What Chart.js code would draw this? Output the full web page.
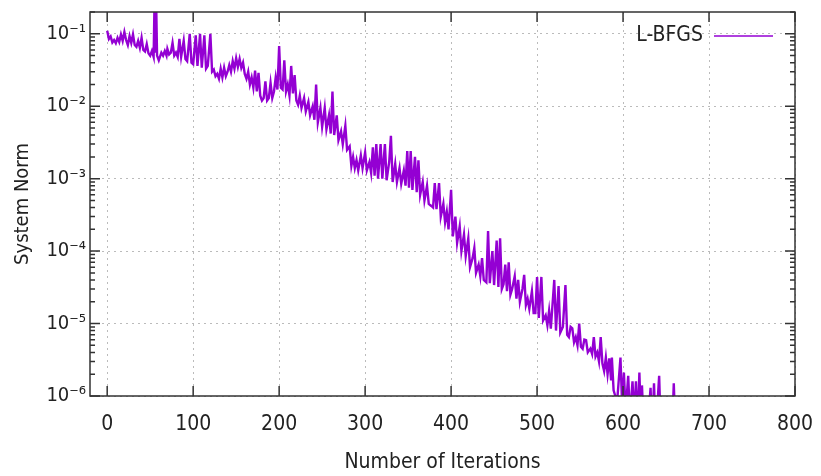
<!DOCTYPE html>
<html>
<head>
<meta charset="utf-8">
<script src="https://cdn.jsdelivr.net/npm/chart.js@4.4.1/dist/chart.umd.min.js"></script>
<style>
  html, body { margin: 0; padding: 0; background: #fff; }
</style>
</head>
<body>
<canvas id="normChart" width="821" height="476"></canvas>
<script>
// ---- data (iteration, system norm) ----
const seriesLabel = "L-BFGS";

const iterations = [
  0, 2, 4, 6, 8, 10, 12, 14, 16, 18, 20, 22, 24, 26, 28, 30, 32, 34, 36, 38,
  40, 42, 44, 46, 48, 50, 52, 54, 55, 56, 57, 58, 60, 63, 65, 67, 69, 70, 72, 74,
  76, 78, 80, 82, 84, 86, 89, 91, 93, 96, 98, 100, 103, 105, 108, 110, 113, 115, 117, 120,
  122, 124, 126, 128, 130, 132, 134, 136, 138, 140, 142, 144, 146, 148, 150, 152, 154, 156, 158, 160,
  162, 164, 166, 168, 170, 172, 174, 176, 178, 180, 182, 184, 186, 188, 190, 192, 194, 196, 198, 200,
  202, 204, 206, 208, 210, 212, 214, 216, 218, 220, 222, 224, 226, 229, 231, 234, 236, 239, 241, 243,
  245, 248, 250, 253, 255, 258, 260, 262, 264, 267, 269, 272, 274, 277, 279, 282, 284, 286, 288, 290,
  292, 295, 297, 300, 302, 305, 307, 309, 311, 313, 315, 318, 320, 323, 325, 328, 330, 332, 335, 337,
  340, 342, 345, 347, 349, 351, 353, 355, 358, 360, 362, 364, 367, 369, 372, 374, 377, 379, 381, 383,
  386, 388, 391, 393, 395, 397, 400, 402, 405, 407, 410, 412, 415, 417, 420, 422, 425, 427, 429, 432,
  434, 436, 438, 441, 443, 445, 448, 450, 453, 455, 457, 459, 461, 463, 465, 467, 469, 471, 474, 476,
  478, 480, 483, 485, 487, 489, 491, 494, 496, 498, 500, 502, 505, 507, 510, 512, 514, 516, 520, 522,
  525, 527, 530, 533, 535, 537, 539, 541, 543, 545, 547, 549, 551, 553, 555, 557, 559, 562, 564, 566,
  568, 570, 572, 574, 576, 578, 580, 582, 584, 586, 587, 589, 591, 593, 597, 599, 601, 603, 606, 608,
  611, 613, 615, 617, 619, 621, 622, 624, 628, 632, 634, 636, 638, 642, 644, 657, 659, 661
];

const norms = [
  0.11, 0.085, 0.092, 0.076, 0.082, 0.074, 0.088, 0.077, 0.098, 0.08, 0.106, 0.082, 0.07, 0.093, 0.075, 0.098, 0.07, 0.066, 0.08, 0.064,
  0.088, 0.06, 0.057, 0.072, 0.054, 0.05, 0.058, 0.048, 0.25, 0.055, 0.25, 0.05, 0.043, 0.055, 0.05, 0.058, 0.05, 0.062, 0.052, 0.055,
  0.075, 0.05, 0.055, 0.048, 0.085, 0.048, 0.08, 0.045, 0.042, 0.1, 0.04, 0.038, 0.095, 0.036, 0.1, 0.034, 0.095, 0.033, 0.036, 0.1,
  0.03, 0.032, 0.026, 0.028, 0.024, 0.033, 0.025, 0.034, 0.026, 0.03, 0.037, 0.03, 0.042, 0.033, 0.046, 0.035, 0.045, 0.034, 0.04, 0.028,
  0.024, 0.03, 0.02, 0.025, 0.018, 0.031, 0.016, 0.029, 0.014, 0.012, 0.013, 0.022, 0.012, 0.013, 0.021, 0.013, 0.016, 0.025, 0.017, 0.068,
  0.018, 0.017, 0.043, 0.016, 0.02, 0.014, 0.036, 0.015, 0.027, 0.012, 0.0105, 0.014, 0.0095, 0.013, 0.0085, 0.0115, 0.0075, 0.01, 0.0065, 0.02,
  0.006, 0.0095, 0.0052, 0.0095, 0.0048, 0.0075, 0.0042, 0.016, 0.004, 0.0075, 0.0034, 0.0045, 0.003, 0.0054, 0.0025, 0.0028, 0.0015, 0.002, 0.0014, 0.0018,
  0.0013, 0.0021, 0.0014, 0.0023, 0.0013, 0.0017, 0.0012, 0.0027, 0.0011, 0.003, 0.001, 0.003, 0.001, 0.003, 0.00095, 0.0017, 0.0039, 0.0009, 0.0016, 0.0009,
  0.0014, 0.00085, 0.0013, 0.0008, 0.0024, 0.00075, 0.0024, 0.0007, 0.002, 0.00065, 0.0018, 0.0006, 0.0009, 0.0005, 0.0008, 0.00045, 0.00042, 0.0004, 0.00087, 0.00038,
  0.00087, 0.0003, 0.00045, 0.00025, 0.00035, 0.0002, 0.0007, 0.00016, 0.0003, 0.00013, 0.00022, 0.0001, 0.00017, 8.5e-5, 0.00015, 6e-5, 8e-5, 0.00011, 5e-5, 6.5e-5,
  4.5e-5, 8e-5, 4e-5, 3.7e-5, 0.00019, 3.6e-5, 0.0001, 3.4e-5, 0.00014, 3.2e-5, 0.00015, 3e-5, 3.5e-5, 6.5e-5, 2.8e-5, 7e-5, 2.5e-5, 3e-5, 4.5e-5, 2.2e-5,
  4e-5, 2e-5, 3e-5, 4.7e-5, 1.8e-5, 2.2e-5, 1.6e-5, 2.8e-5, 1.4e-5, 1.4e-5, 4.4e-5, 1.2e-5, 4.4e-5, 1.1e-5, 1.3e-5, 9.5e-6, 1.5e-5, 8.5e-6, 4e-5, 8e-6,
  3.3e-5, 7.5e-6, 9e-6, 3.4e-5, 7e-6, 6.5e-6, 9e-6, 8.6e-6, 5.5e-6, 6.5e-6, 5e-6, 1e-5, 4.8e-6, 4.5e-6, 6e-6, 5.9e-6, 4e-6, 4.5e-6, 3.8e-6, 6.5e-6,
  3.5e-6, 4e-6, 3e-6, 6.5e-6, 2.8e-6, 2.2e-6, 3.4e-6, 2e-6, 3.3e-6, 1.7e-6, 3.4e-6, 1.2e-6, 1e-6, 8e-7, 3.4e-6, 7e-7, 2.1e-6, 6e-7, 1.9e-6, 5e-7,
  1.6e-6, 5e-7, 1.6e-6, 4e-7, 2.1e-6, 4e-7, 1.4e-6, 4e-7, 3e-7, 1.3e-6, 3e-7, 1.5e-6, 3e-7, 1.9e-6, 3e-7, 3e-7, 1.5e-6, 3e-7
];

const xTicks = [0, 100, 200, 300, 400, 500, 600, 700, 800];
const yTicks = [1e-6, 1e-5, 1e-4, 1e-3, 1e-2, 1e-1];
const yTickLabels = ["10⁻⁶", "10⁻⁵", "10⁻⁴", "10⁻³", "10⁻²", "10⁻¹"];

const lineColor = "#9400d3";
const inkColor = "#222";
const fontFamily = "'DejaVu Sans Condensed', 'DejaVu Sans', sans-serif";

// ---- gnuplot-style frame, inward ticks and key ----
const gnuplotFrame = {
  id: "gnuplotFrame",
  afterDatasetsDraw(chart) {
    const { ctx, chartArea: a, scales: { x, y } } = chart;
    ctx.save();
    ctx.strokeStyle = "#333";
    ctx.lineWidth = 1.5;
    ctx.beginPath();
    xTicks.forEach(v => {
      const px = x.getPixelForValue(v);
      ctx.moveTo(px, a.bottom); ctx.lineTo(px, a.bottom - 10);
      ctx.moveTo(px, a.top); ctx.lineTo(px, a.top + 10);
    });
    yTicks.forEach(d => {
      for (let m = 1; m <= 9; m++) {
        const v = d * m;
        if (v > y.max * 1.0001) break;
        const len = m === 1 ? 10 : 5;
        const py = y.getPixelForValue(v);
        ctx.moveTo(a.left, py); ctx.lineTo(a.left + len, py);
        ctx.moveTo(a.right, py); ctx.lineTo(a.right - len, py);
      }
    });
    ctx.stroke();
    ctx.strokeRect(a.left, a.top, a.right - a.left, a.bottom - a.top);

    // key, top right inside the plot
    const ds = chart.data.datasets[0];
    ctx.font = "21px " + fontFamily;
    ctx.fillStyle = inkColor;
    ctx.textAlign = "right";
    ctx.textBaseline = "middle";
    ctx.fillText(ds.label, a.right - 92, a.top + 24);
    ctx.strokeStyle = ds.borderColor;
    ctx.lineWidth = 1.5;
    ctx.beginPath();
    ctx.moveTo(a.right - 81, a.top + 24);
    ctx.lineTo(a.right - 22, a.top + 24);
    ctx.stroke();
    ctx.restore();
  }
};

new Chart(document.getElementById("normChart"), {
  type: "line",
  data: {
    datasets: [{
      label: seriesLabel,
      data: iterations.map((it, i) => ({ x: it, y: norms[i] })),
      borderColor: lineColor,
      borderWidth: 2.4,
      pointRadius: 0,
      tension: 0,
      fill: false
    }]
  },
  options: {
    responsive: false,
    devicePixelRatio: 1,
    animation: false,
    layout: { padding: { left: 0, right: 26, top: 12, bottom: 0 } },
    plugins: {
      legend: { display: false },
      tooltip: { enabled: false }
    },
    scales: {
      x: {
        type: "linear",
        min: -20,
        max: 800,
        afterBuildTicks: s => { s.ticks = xTicks.map(v => ({ value: v })); },
        afterFit: s => { s.height = 80; s.paddingLeft = 0; s.paddingRight = 0; },
        grid: { color: "#bbb", lineWidth: 1, drawTicks: false },
        border: { display: false, dash: [2, 4] },
        ticks: {
          padding: 16,
          maxRotation: 0,
          color: inkColor,
          font: { family: fontFamily, size: 21 }
        },
        title: {
          display: true,
          text: "Number of Iterations",
          color: inkColor,
          padding: { top: 0, bottom: 1 },
          font: { family: fontFamily, size: 21 }
        }
      },
      y: {
        type: "logarithmic",
        min: 1e-6,
        max: 0.2,
        afterBuildTicks: s => { s.ticks = yTicks.map(v => ({ value: v })); },
        afterFit: s => { s.width = 90; s.paddingTop = 0; s.paddingBottom = 0; },
        grid: { color: "#bbb", lineWidth: 1, drawTicks: false },
        border: { display: false, dash: [2, 4] },
        ticks: {
          padding: 4,
          color: inkColor,
          font: { family: fontFamily, size: 20 },
          callback: v => yTickLabels[yTicks.indexOf(v)]
        },
        title: {
          display: true,
          text: "System Norm",
          color: inkColor,
          padding: { top: 11, bottom: 0 },
          font: { family: fontFamily, size: 20 }
        }
      }
    }
  },
  plugins: [gnuplotFrame]
});
</script>
</body>
</html>
